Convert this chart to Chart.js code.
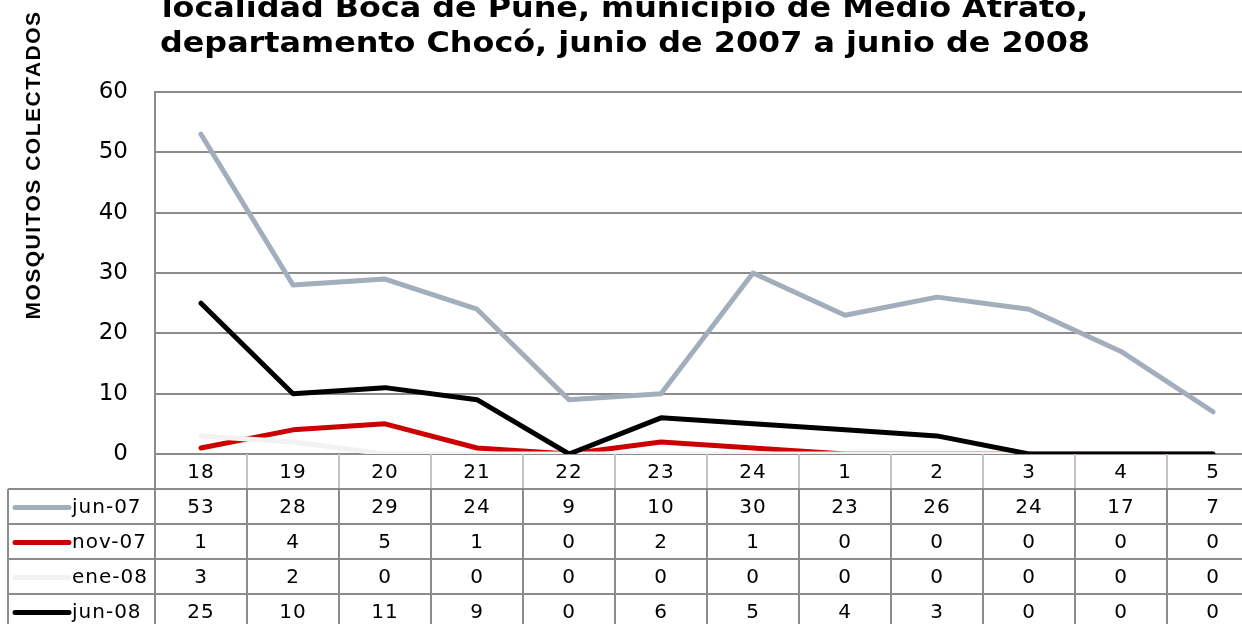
<!DOCTYPE html>
<html>
<head>
<meta charset="utf-8">
<script src="https://cdn.jsdelivr.net/npm/chart.js@4"></script>
<style>
  html, body { margin: 0; padding: 0; background: #fff; overflow: hidden; }
  #wrap { width: 1242px; height: 624px; position: relative; overflow: hidden; }
</style>
</head>
<body>
<div id="wrap"><canvas id="chart" width="1259" height="624"></canvas></div>
<script>
const days = ['18', '19', '20', '21', '22', '23', '24', '1', '2', '3', '4', '5'];
const seriesNames = ['jun-07', 'nov-07', 'ene-08', 'jun-08'];
const jun07 = [53, 28, 29, 24, 9, 10, 30, 23, 26, 24, 17, 7];
const nov07 = [1, 4, 5, 1, 0, 2, 1, 0, 0, 0, 0, 0];
const ene08 = [3, 2, 0, 0, 0, 0, 0, 0, 0, 0, 0, 0];
const jun08 = [25, 10, 11, 9, 0, 6, 5, 4, 3, 0, 0, 0];
const yTicks = [0, 10, 20, 30, 40, 50, 60];
const titleLines = [
  'localidad Boca de Pune, municipio de Medio Atrato,',
  'departamento Chocó, junio de 2007 a junio de 2008'
];
const yTitle = 'MOSQUITOS COLECTADOS';

const colors = ['#a2aebb', '#cc0000', '#f2f2f2', '#000000'];
const allData = [jun07, nov07, ene08, jun08];

Chart.defaults.font.family = '"DejaVu Sans", Verdana, sans-serif';
Chart.defaults.color = '#000';

// title, y-axis title and the data table under the plot
const extras = {
  id: 'extras',
  afterDraw(chart) {
    const ctx = chart.ctx;
    const area = chart.chartArea;
    const xs = chart.scales.x;
    const colW = (area.right - area.left) / days.length;
    ctx.save();

    // title (stretched a bit to match the wide original face)
    ctx.fillStyle = '#000';
    ctx.font = 'bold 28px "DejaVu Sans"';
    ctx.textAlign = 'center';
    ctx.textBaseline = 'alphabetic';
    const sx = 930 / ctx.measureText(titleLines[1]).width;
    ctx.save();
    ctx.translate(625, 0);
    ctx.scale(sx, 1);
    ctx.fillText(titleLines[0], 0, 17);
    ctx.fillText(titleLines[1], 0, 52);
    ctx.restore();

    // y title
    ctx.save();
    ctx.translate(40, 165);
    ctx.rotate(-Math.PI / 2);
    ctx.font = 'bold 21px "Liberation Sans"';
    ctx.letterSpacing = '1.5px';
    ctx.textAlign = 'center';
    ctx.fillText(yTitle, 0, 0);
    ctx.restore();

    // table grid
    const top = area.bottom;
    const rowH = 35;
    const rowsY = [top + rowH, top + 2 * rowH, top + 3 * rowH, top + 4 * rowH];
    ctx.lineWidth = 2;
    ctx.strokeStyle = '#c4c4c4';
    for (let i = 1; i < days.length; i++) {
      const x = Math.round(area.left + i * colW);
      ctx.beginPath(); ctx.moveTo(x, top); ctx.lineTo(x, rowsY[0]); ctx.stroke();
    }
    ctx.strokeStyle = '#8c8c8c';
    for (let i = 1; i < days.length; i++) {
      const x = Math.round(area.left + i * colW);
      ctx.beginPath(); ctx.moveTo(x, rowsY[0]); ctx.lineTo(x, 624); ctx.stroke();
    }
    ctx.beginPath(); ctx.moveTo(area.left, top); ctx.lineTo(area.left, 624); ctx.stroke();
    ctx.beginPath(); ctx.moveTo(8, rowsY[0]); ctx.lineTo(8, 624); ctx.stroke();
    rowsY.forEach(y => {
      ctx.beginPath(); ctx.moveTo(8, y); ctx.lineTo(area.right, y); ctx.stroke();
    });

    // header labels
    ctx.fillStyle = '#000';
    ctx.font = '20px "DejaVu Sans"';
    ctx.letterSpacing = '1px';
    ctx.textAlign = 'center';
    ctx.textBaseline = 'middle';
    days.forEach((d, i) => ctx.fillText(d, xs.getPixelForValue(i), top + rowH / 2 + 1));

    // rows: legend key + values
    allData.forEach((arr, r) => {
      const cy = rowsY[r] + rowH / 2 + 1;
      ctx.strokeStyle = colors[r];
      ctx.lineWidth = 5;
      ctx.lineCap = 'round';
      ctx.beginPath(); ctx.moveTo(15, cy); ctx.lineTo(69, cy); ctx.stroke();
      ctx.fillStyle = '#000';
      ctx.textAlign = 'left';
      ctx.fillText(seriesNames[r], 72, cy);
      ctx.textAlign = 'center';
      arr.forEach((v, i) => ctx.fillText(String(v), xs.getPixelForValue(i), cy));
    });
    ctx.restore();
  }
};

new Chart(document.getElementById('chart'), {
  type: 'line',
  data: {
    labels: days,
    datasets: seriesNames.map((name, i) => ({
      label: name,
      data: allData[i],
      borderColor: colors[i],
      backgroundColor: colors[i],
      borderWidth: 5,
      pointRadius: 0,
      tension: 0,
      borderCapStyle: 'round',
      borderJoinStyle: 'round',
      order: 4 - i,
    }))
  },
  options: {
    responsive: false,
    animation: false,
    layout: { padding: { top: 92, bottom: 170, left: 0, right: 0 } },
    plugins: {
      legend: { display: false },
      title: { display: false },
      tooltip: { enabled: false },
    },
    scales: {
      x: { display: false, offset: true },
      y: {
        min: 0,
        max: 60,
        afterFit: s => { s.width = 155; },
        afterBuildTicks: s => { s.ticks = yTicks.map(v => ({ value: v })); },
        ticks: { padding: 27, font: { size: 23 }, color: '#000' },
        grid: { color: '#8c8c8c', lineWidth: 2, drawTicks: false },
        border: { display: true, color: '#8c8c8c', width: 2 },
      }
    }
  },
  plugins: [extras]
});
</script>
</body>
</html>
